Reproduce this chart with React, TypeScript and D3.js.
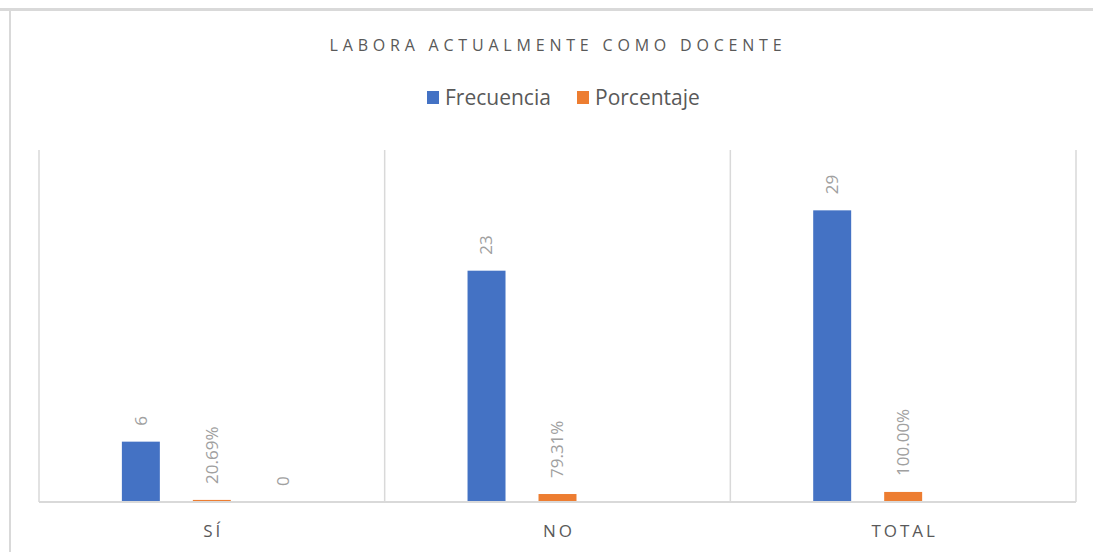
import React from "react";
import * as d3 from "d3";

const categories = ["SÍ", "NO", "TOTAL"];
const seriesNames = ["Frecuencia", "Porcentaje", "Serie3"];
const frecuencia = [6, 23, 29];
const porcentaje = [0.2069, 0.7931, 1.0];
const serie3: (number | null)[] = [0, null, null];
const yMax = 35;
const legendNames = ["Frecuencia", "Porcentaje"];
const colors = ["#4472c4", "#ed7d31", "#a5a5a5"];

const W = 1093;
const H = 552;
const plot = { left: 39, right: 1076, top: 150, bottom: 502 };

function fmt(si: number, v: number) {
  if (si === 1) return (v * 100).toFixed(2) + "%";
  return String(v);
}

export default function App() {
  const x = d3.scaleBand<string>().domain(categories).range([plot.left, plot.right]).padding(0);
  const y = d3.scaleLinear().domain([0, yMax]).range([plot.bottom, plot.top]);
  const groupW = x.bandwidth() * 0.616;
  const inner = d3.scaleBand<string>().domain(seriesNames).range([-groupW / 2, groupW / 2]).padding(0);
  const barW = inner.bandwidth() * 0.535;
  const data = [frecuencia, porcentaje, serie3];
  const font = "'Open Sans', 'Noto Sans', sans-serif";

  const gridXs = [plot.left, ...categories.map((c) => (x(c) as number) + x.bandwidth())];

  const legendY = 98;
  const legendItems = [
    { name: legendNames[0], color: colors[0], x: 427 },
    { name: legendNames[1], color: colors[1], x: 577 },
  ];

  return (
    <svg width={W} height={H} style={{ position: "absolute", left: 0, top: 0, display: "block", background: "#fff" }}>
      <rect x={0} y={0} width={W} height={H} fill="#ffffff" />
      <line x1={0} x2={W} y1={9.5} y2={9.5} stroke="#d9d9d9" strokeWidth={3} />
      <line x1={10} x2={10} y1={9} y2={H} stroke="#d9d9d9" strokeWidth={2} />

      <text x={558} y={51} textAnchor="middle" fontFamily={font} fontSize={16} fill="#595959" letterSpacing={4.8}>
        LABORA ACTUALMENTE COMO DOCENTE
      </text>

      {legendItems.map((it) => (
        <g key={it.name}>
          <rect x={it.x} y={legendY - 7} width={12} height={13} fill={it.color} />
          <text x={it.x + 18} y={legendY + 7} fontFamily={font} fontSize={21} fill="#595959">
            {it.name}
          </text>
        </g>
      ))}

      {gridXs.map((gx, i) => (
        <line key={i} x1={gx} x2={gx} y1={plot.top} y2={plot.bottom} stroke="#d9d9d9" strokeWidth={1.5} />
      ))}

      {data.map((series, si) =>
        series.map((v, ci) => {
          if (v === null || v === undefined) return null;
          const cx = (x(categories[ci]) as number) + x.bandwidth() / 2 + (inner(seriesNames[si]) as number) + inner.bandwidth() / 2;
          const top = y(v);
          return (
            <g key={`${si}-${ci}`}>
              {v > 0 && (
                <rect x={cx - barW / 2} y={top} width={barW} height={plot.bottom - top} fill={colors[si]} />
              )}
              <text
                transform={`translate(${cx},${top - 16}) rotate(-90)`}
                dy="0.35em"
                fontFamily={font}
                fontSize={17}
                fill="#a0a0a0"
              >
                {fmt(si, v)}
              </text>
            </g>
          );
        })
      )}

      <line x1={plot.left} x2={plot.right} y1={plot.bottom} y2={plot.bottom} stroke="#d9d9d9" strokeWidth={2} />
      {categories.map((c) => (
        <text
          key={c}
          x={(x(c) as number) + x.bandwidth() / 2 + 1.5}
          y={537}
          textAnchor="middle"
          fontFamily={font}
          fontSize={17}
          fill="#595959"
          letterSpacing={3}
        >
          {c}
        </text>
      ))}
    </svg>
  );
}
